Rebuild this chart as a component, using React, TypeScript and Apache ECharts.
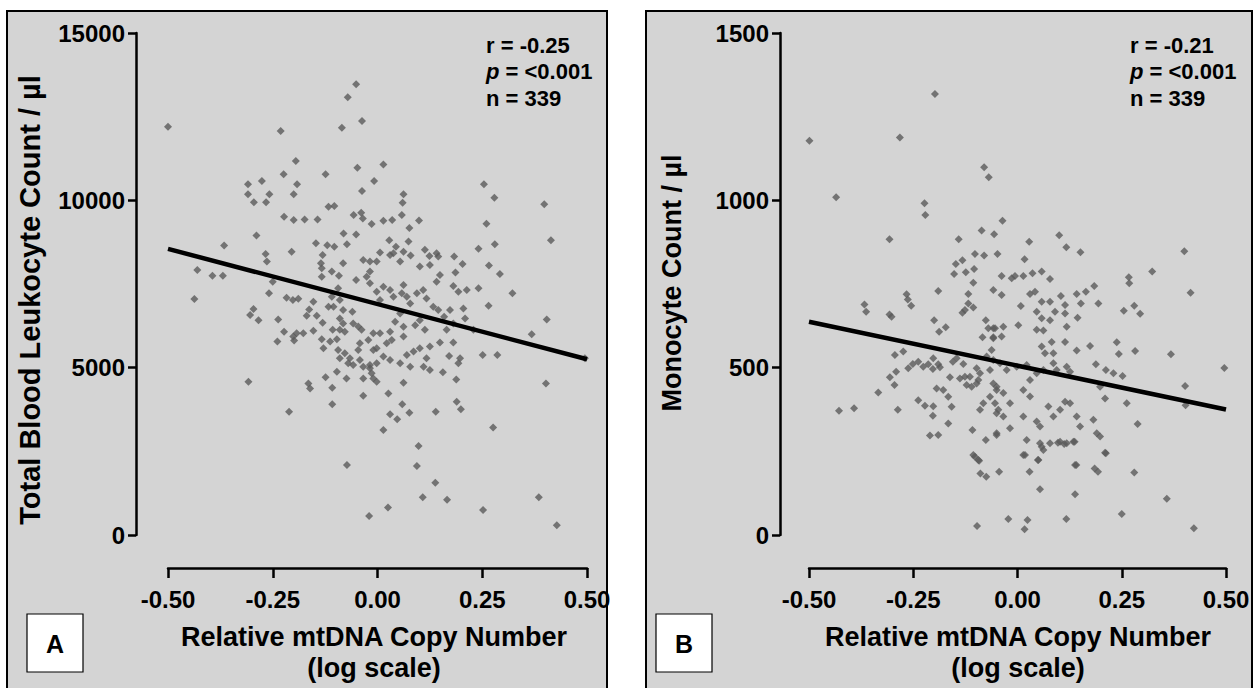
import React, { useEffect, useRef } from "react";
import * as echarts from "echarts";

const FONT = "Liberation Sans, Arial, Helvetica, sans-serif";

// Panel A: Total blood leukocyte count vs relative mtDNA copy number
const leukocytePoints: number[][] = [
  [-0.5, 12200], [-0.231, 12070], [-0.051, 13470], [-0.071, 13080], [-0.085, 12170], [-0.037, 12370],
  [-0.195, 11175], [-0.224, 10780], [-0.124, 10780], [-0.048, 10975], [-0.008, 10580], [-0.309, 10480],
  [-0.276, 10580], [-0.192, 10480], [-0.309, 10180], [-0.258, 10180], [-0.2, 10180], [-0.037, 10280],
  [-0.295, 9940], [-0.266, 9940], [-0.117, 9810], [-0.103, 9830], [-0.223, 9510], [-0.2, 9410],
  [-0.174, 9430], [-0.143, 9430], [-0.057, 9560], [-0.039, 9630], [-0.035, 9460], [-0.014, 9290],
  [-0.081, 9010], [-0.051, 8980], [-0.289, 8950], [-0.366, 8650], [-0.147, 8720], [-0.12, 8660],
  [-0.103, 8610], [-0.073, 8690], [-0.267, 8400], [-0.205, 8460], [-0.43, 7920], [-0.394, 7750],
  [-0.369, 7750], [-0.437, 7050], [-0.264, 8170], [-0.131, 8370], [-0.135, 8120], [-0.133, 7970],
  [-0.133, 7720], [-0.082, 8120], [-0.109, 7870], [-0.092, 7750], [-0.051, 7620], [-0.026, 7720],
  [-0.018, 7870], [-0.034, 8220], [-0.018, 8170], [-0.002, 8170], [-0.25, 7570], [-0.259, 7220],
  [-0.217, 7090], [-0.202, 7020], [-0.189, 7060], [-0.153, 6970], [-0.094, 7370], [-0.09, 7020],
  [-0.109, 7120], [-0.105, 6820], [-0.117, 6820], [-0.163, 6740], [-0.169, 6550], [-0.145, 6550],
  [-0.296, 6750], [-0.304, 6570], [-0.284, 6420], [-0.237, 6440], [-0.06, 6670], [-0.082, 6720],
  [-0.09, 6470], [-0.082, 6320], [-0.058, 6320], [-0.131, 6340], [-0.153, 6100], [-0.107, 6130],
  [-0.09, 6130], [-0.078, 6070], [-0.046, 6230], [-0.038, 6130], [-0.223, 6070], [-0.201, 5930],
  [-0.193, 6030], [-0.177, 6030], [-0.239, 5780], [-0.199, 5810], [-0.133, 5850], [-0.129, 5580],
  [-0.113, 5780], [-0.097, 5850], [-0.094, 5530], [-0.09, 5280], [-0.078, 5430], [-0.066, 5280],
  [-0.07, 5130], [-0.058, 5080], [-0.046, 5530], [-0.042, 5730], [-0.022, 5830], [-0.01, 6030],
  [-0.002, 5580], [-0.042, 5230], [-0.034, 5030], [-0.018, 5080], [-0.014, 4830], [-0.034, 4680],
  [-0.01, 4680], [-0.097, 4880], [-0.074, 4680], [-0.124, 4710], [-0.165, 4530], [-0.161, 4380],
  [-0.108, 4400], [-0.034, 4160], [-0.108, 3910], [-0.211, 3680], [-0.308, 4580], [-0.073, 2090],
  [0.094, 2060], [0.098, 2660], [0.138, 1560], [0.108, 1130], [0.166, 1050], [-0.02, 570],
  [0.025, 820], [0.252, 750], [0.385, 1130], [0.428, 290], [0.014, 11070], [0.254, 10480],
  [0.279, 10080], [0.398, 9880], [0.062, 10180], [0.06, 9930], [0.058, 9560], [0.099, 9400],
  [0.076, 9170], [0.014, 9390], [0.035, 9410], [0.26, 9300], [0.28, 8690], [0.241, 8550],
  [0.414, 8810], [0.028, 8810], [0.044, 8610], [0.074, 8770], [0.062, 8460], [0.006, 8440],
  [0.03, 8370], [0.038, 8420], [0.079, 8350], [0.113, 8520], [0.124, 8340], [0.141, 8420],
  [0.145, 8320], [0.183, 8320], [0.054, 8170], [0.101, 8020], [0.125, 8070], [0.149, 7770],
  [0.141, 7570], [0.203, 8100], [0.186, 7840], [0.266, 8050], [0.292, 7800], [0.241, 7370],
  [0.322, 7220], [0.213, 7320], [0.193, 7270], [0.181, 7440], [0.265, 6850], [0.404, 6440],
  [0.368, 6000], [0.495, 5280], [0.251, 5380], [0.286, 5380], [0.402, 4530], [0.276, 3210],
  [0.014, 3140], [0.03, 3610], [0.047, 3460], [0.076, 3650], [0.059, 3910], [0.139, 3680],
  [0.189, 3980], [0.199, 3760], [0.006, 6030], [0.022, 5730], [0.034, 5830], [0.062, 5930],
  [0.086, 5480], [0.101, 5580], [0.117, 5280], [-0.01, 5530], [0.014, 5330], [0.03, 5230],
  [0.054, 5130], [0.07, 5380], [0.078, 5030], [0.11, 5030], [0.125, 4930], [0.125, 5630],
  [0.149, 5750], [0.171, 5350], [0.181, 5750], [0.156, 4860], [0.188, 4650], [0.193, 5130],
  [0.197, 5280], [-0.002, 4580], [0.026, 4230], [0.062, 4550], [-0.002, 5130], [-0.018, 4980],
  [-0.018, 7520], [-0.002, 7270], [0.014, 7420], [0.03, 7320], [0.038, 7120], [0.006, 7020],
  [0.062, 7470], [0.058, 7220], [0.07, 7120], [0.094, 7220], [0.109, 7320], [0.117, 7070],
  [0.133, 6820], [0.145, 6720], [0.173, 6720], [0.205, 6770], [0.209, 6470], [0.159, 6520],
  [0.181, 6320], [0.229, 6130], [0.165, 6130], [0.078, 6920], [0.054, 6620], [0.042, 6370],
  [0.03, 6070], [0.062, 6220], [0.09, 6270], [0.101, 6420], [0.113, 6130],
];
const leukocyteFit: number[][] = [[-0.5, 8550], [0.5, 5250]];

// Panel B: Monocyte count vs relative mtDNA copy number
const monocytePoints: number[][] = [
  [-0.198, 1318], [-0.499, 1178], [-0.282, 1188], [-0.435, 1009], [-0.223, 991], [-0.221, 956],
  [-0.307, 884], [-0.08, 1099], [-0.069, 1069], [-0.141, 884], [-0.086, 910], [-0.056, 899],
  [-0.102, 840], [-0.08, 835], [-0.048, 840], [-0.148, 810], [-0.132, 821], [-0.152, 780],
  [-0.124, 785], [-0.104, 795], [-0.367, 689], [-0.363, 667], [-0.307, 659], [-0.302, 652],
  [-0.266, 719], [-0.263, 704], [-0.255, 685], [-0.19, 729], [-0.106, 754], [-0.118, 720],
  [-0.118, 692], [-0.132, 664], [-0.126, 672], [-0.106, 680], [-0.2, 642], [-0.188, 607],
  [-0.172, 621], [-0.076, 642], [-0.07, 618], [-0.058, 618], [-0.084, 591], [-0.058, 591],
  [-0.294, 538], [-0.274, 548], [-0.291, 488], [-0.306, 471], [-0.295, 448], [-0.334, 426],
  [-0.428, 371], [-0.392, 379], [-0.287, 374], [-0.262, 498], [-0.251, 511], [-0.238, 518],
  [-0.226, 503], [-0.214, 510], [-0.202, 528], [-0.203, 496], [-0.19, 510], [-0.186, 501],
  [-0.155, 518], [-0.146, 528], [-0.13, 511], [-0.138, 468], [-0.126, 473], [-0.114, 473],
  [-0.122, 448], [-0.11, 443], [-0.098, 498], [-0.09, 483], [-0.094, 463], [-0.162, 471],
  [-0.194, 438], [-0.178, 433], [-0.166, 413], [-0.238, 403], [-0.222, 386], [-0.202, 385],
  [-0.203, 356], [-0.158, 383], [-0.166, 333], [-0.108, 314], [-0.21, 297], [-0.19, 299],
  [-0.076, 284], [-0.106, 239], [-0.094, 224], [-0.05, 304], [-0.066, 493], [-0.058, 453],
  [-0.05, 433], [-0.066, 413], [-0.054, 394], [-0.046, 374], [-0.082, 394], [-0.09, 374],
  [-0.074, 533], [-0.062, 553], [-0.058, 523], [-0.098, 453], [-0.102, 234], [-0.092, 222],
  [-0.089, 184], [-0.075, 174], [-0.044, 189], [0.018, 239], [0.049, 224], [0.029, 189],
  [0.058, 264], [0.078, 274], [0.097, 276], [0.112, 272], [0.137, 279], [0.141, 209],
  [0.185, 199], [0.193, 189], [0.212, 244], [0.28, 187], [0.054, 137], [0.138, 122],
  [0.358, 108], [0.25, 63], [-0.097, 27], [-0.022, 48], [0.024, 45], [0.017, 17],
  [0.117, 48], [0.423, 20], [-0.036, 939], [0.1, 896], [0.117, 860], [0.151, 845],
  [0.028, 876], [0.017, 824], [0.4, 848], [-0.038, 774], [-0.014, 767], [-0.006, 774],
  [0.014, 774], [0.036, 782], [0.058, 787], [0.078, 765], [0.267, 770], [0.323, 787],
  [-0.058, 732], [-0.038, 717], [0.03, 720], [0.042, 727], [0.268, 752], [0.415, 724],
  [0.142, 720], [0.164, 727], [0.184, 744], [0.152, 692], [0.194, 692], [0.255, 670],
  [0.28, 685], [0.294, 661], [0.008, 684], [0.046, 667], [0.058, 697], [0.078, 697],
  [0.058, 648], [0.078, 642], [0.09, 667], [0.104, 714], [0.114, 687], [0.114, 662],
  [0.144, 649], [0.002, 627], [-0.034, 622], [-0.054, 618], [-0.038, 593], [-0.058, 588],
  [0.046, 613], [0.062, 611], [0.118, 622], [0.114, 577], [0.082, 577], [0.058, 563],
  [0.066, 543], [0.086, 543], [0.142, 551], [0.174, 565], [0.238, 576], [0.243, 541],
  [0.282, 550], [0.368, 540], [0.496, 499], [0.402, 445], [0.262, 394], [0.288, 332],
  [0.403, 388], [-0.042, 513], [-0.026, 493], [-0.002, 503], [0.022, 508], [0.046, 483],
  [0.03, 463], [0.062, 493], [0.086, 513], [0.094, 493], [0.118, 503], [0.126, 488],
  [0.188, 510], [0.212, 493], [0.23, 483], [0.252, 475], [0.198, 443], [0.21, 408],
  [-0.05, 443], [-0.034, 424], [-0.018, 394], [-0.05, 364], [-0.034, 354], [0.014, 433],
  [0.03, 414], [0.014, 354], [0.046, 339], [0.054, 324], [0.074, 384], [0.086, 354],
  [0.102, 374], [0.114, 398], [0.126, 394], [0.142, 354], [0.15, 324], [0.182, 344],
  [0.19, 304], [0.198, 294], [-0.05, 299], [-0.018, 319], [0.022, 284], [0.054, 274],
  [0.062, 254], [0.102, 279], [0.118, 274], [0.134, 279], [0.21, 246], [0.014, 239],
  [0.05, 224], [0.138, 209],
];
const monocyteFit: number[][] = [[-0.5, 637], [0.5, 375]];

const xTicks = { min: -0.5, max: 0.5, interval: 0.25 };
const yTicksA = { min: 0, max: 15000, interval: 5000 };
const yTicksB = { min: 0, max: 1500, interval: 500 };

const statsA = ["r = -0.25", "{i|p} = <0.001", "n = 339"];
const statsB = ["r = -0.21", "{i|p} = <0.001", "n = 339"];

const xTitle = ["Relative mtDNA Copy Number", "(log scale)"];
const yTitleA = "Total Blood Leukocyte Count / µl";
const yTitleB = "Monocyte Count / µl";

function xAxisFor(gridIndex: number) {
  return {
    type: "value",
    gridIndex,
    ...xTicks,
    position: "bottom",
    offset: 33,
    axisLine: { onZero: false, lineStyle: { color: "#000", width: 2.5 } },
    axisTick: { show: true, length: 10, lineStyle: { color: "#000", width: 2.5 } },
    axisLabel: {
      formatter: (v: number) => v.toFixed(2),
      color: "#000",
      fontFamily: FONT,
      fontWeight: "bold",
      fontSize: 24,
      margin: 19,
    },
    splitLine: { show: false },
  };
}

function yAxisFor(gridIndex: number, ticks: any, offset: number) {
  return {
    type: "value",
    gridIndex,
    ...ticks,
    position: "left",
    offset,
    axisLine: { show: true, onZero: false, lineStyle: { color: "#000", width: 2.5 } },
    axisTick: { show: true, length: 8, lineStyle: { color: "#000", width: 2.5 } },
    axisLabel: {
      formatter: (v: number) => String(v),
      color: "#000",
      fontFamily: FONT,
      fontWeight: "bold",
      fontSize: 24,
      margin: 11,
    },
    splitLine: { show: false },
  };
}

function statsText(lines: string[], x: number) {
  return lines.map((t, i) => ({
    type: "text",
    x,
    y: 45 + i * 26.5,
    z: 10,
    style: {
      text: t,
      font: `bold 22px ${FONT}`,
      fill: "#000",
      textAlign: "left",
      textVerticalAlign: "middle",
      rich: {
        i: { fontStyle: "italic", fontWeight: "bold", fontSize: 22, fontFamily: FONT, fill: "#000" },
      },
    },
  }));
}

function panelGraphics(
  left: number,
  right: number,
  axisCenterX: number,
  yTitle: string,
  yTitleX: number,
  yTitleY: number,
  yTitleSize: number,
  letter: string,
  letterX: number
) {
  return [
    {
      type: "rect",
      z: -100,
      silent: true,
      shape: { x: left, y: 11, width: right - left, height: 700 },
      style: { fill: "#d4d4d4", stroke: "#000", lineWidth: 2 },
    },
    {
      type: "rect",
      z: 5,
      shape: { x: letterX, y: 614, width: 56, height: 58 },
      style: { fill: "#fff", stroke: "#000", lineWidth: 1.2 },
    },
    {
      type: "text",
      z: 6,
      x: letterX + 28,
      y: 644,
      style: {
        text: letter,
        font: `bold 25px ${FONT}`,
        fill: "#000",
        textAlign: "center",
        textVerticalAlign: "middle",
      },
    },
    {
      type: "text",
      z: 6,
      x: axisCenterX,
      y: 637,
      style: {
        text: xTitle[0],
        font: `bold 27px ${FONT}`,
        fill: "#000",
        textAlign: "center",
        textVerticalAlign: "middle",
      },
    },
    {
      type: "text",
      z: 6,
      x: axisCenterX,
      y: 668,
      style: {
        text: xTitle[1],
        font: `bold 27px ${FONT}`,
        fill: "#000",
        textAlign: "center",
        textVerticalAlign: "middle",
      },
    },
    {
      type: "text",
      z: 6,
      x: yTitleX,
      y: yTitleY,
      rotation: Math.PI / 2,
      style: {
        text: yTitle,
        font: `bold ${yTitleSize}px ${FONT}`,
        fill: "#000",
        textAlign: "center",
        textVerticalAlign: "middle",
      },
    },
  ];
}

export default function App() {
  const ref = useRef<HTMLDivElement>(null);

  useEffect(() => {
    if (!ref.current) return;
    const chart = echarts.init(ref.current, undefined, { renderer: "svg" });
    const scatterStyle = {
      type: "scatter",
      symbol: "diamond",
      symbolSize: 8,
      itemStyle: { color: "#5a5a5a" },
      z: 3,
    };
    const fitStyle = {
      type: "line",
      symbol: "none",
      lineStyle: { color: "#000", width: 4.5 },
      z: 4,
    };
    chart.setOption({
      animation: false,
      backgroundColor: "#fff",
      grid: [
        { left: 168, top: 33, width: 419, height: 502, containLabel: false },
        { left: 809, top: 33, width: 417, height: 502, containLabel: false },
      ],
      xAxis: [xAxisFor(0), xAxisFor(1)],
      yAxis: [yAxisFor(0, yTicksA, 32), yAxisFor(1, yTicksB, 29)],
      series: [
        { ...scatterStyle, xAxisIndex: 0, yAxisIndex: 0, data: leukocytePoints },
        { ...fitStyle, xAxisIndex: 0, yAxisIndex: 0, data: leukocyteFit },
        { ...scatterStyle, xAxisIndex: 1, yAxisIndex: 1, data: monocytePoints },
        { ...fitStyle, xAxisIndex: 1, yAxisIndex: 1, data: monocyteFit },
      ],
      graphic: [
        ...panelGraphics(7, 607, 374, yTitleA, 30, 300, 29, "A", 27),
        ...panelGraphics(646, 1252, 1018, yTitleB, 672, 283, 27, "B", 656),
        ...statsText(statsA, 486),
        ...statsText(statsB, 1130),
      ],
    });
    return () => chart.dispose();
  }, []);

  return (
    <div
      ref={ref}
      style={{ position: "fixed", left: 0, top: 0, width: 1255, height: 688 }}
    />
  );
}
